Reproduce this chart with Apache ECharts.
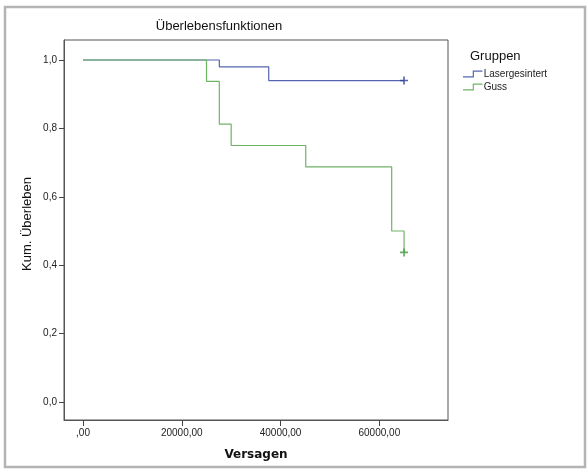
<!DOCTYPE html>
<html>
<head>
<meta charset="utf-8">
<script src="https://cdn.jsdelivr.net/npm/echarts@6/dist/echarts.min.js"></script>
<style>html,body{margin:0;padding:0;background:#fff}#c{width:588px;height:471px}</style>
</head>
<body>
<div id="c"></div>
<script>
// Data
var chartTitle = 'Überlebensfunktionen';
var xAxisName = 'Versagen';
var yAxisName = 'Kum. Überleben';
var legendTitle = 'Gruppen';
var groupNames = ['Lasergesintert', 'Guss'];
// Kaplan-Meier step points [time, cumulative survival]
var laserTimes = [0, 27600, 37600, 65000];
var laserSurv = [1.0, 0.98, 0.94, 0.94];
var gussTimes = [0, 25000, 27600, 30000, 45100, 62500, 65000];
var gussSurv = [1.0, 0.9375, 0.8125, 0.75, 0.6875, 0.5, 0.4375];
// censored observations
var laserCensTimes = [65000];
var laserCensSurv = [0.94];
var gussCensTimes = [65000];
var gussCensSurv = [0.4375];
var xTicks = [0, 20000, 40000, 60000];
var yTicks = [0, 0.2, 0.4, 0.6, 0.8, 1.0];

function zip(a, b) { return a.map(function (v, i) { return [v, b[i]]; }); }

var blue = '#5565b0';
var green = '#6fb465';
var blueDark = '#2b3d8e';
var greenDark = '#3a963c';
var plusPath = 'path://M4,0 L6,0 L6,4 L10,4 L10,6 L6,6 L6,10 L4,10 L4,6 L0,6 L0,4 L4,4 Z';
var stepIcon = 'path://M0,6 L10,6 L10,0 L20,0 L20,1.2 L11.2,1.2 L11.2,7.2 L0,7.2 Z';

var chart = echarts.init(document.getElementById('c'), null, { renderer: 'canvas' });
chart.setOption({
  animation: false,
  backgroundColor: '#fff',
  title: {
    text: chartTitle,
    left: 219, top: 20, textAlign: 'center', padding: 0,
    textStyle: { fontFamily: 'Liberation Sans', fontSize: 13, fontWeight: 'normal', color: '#111' }
  },
  grid: { left: 64, top: 40, right: 140, bottom: 51, show: true, borderColor: '#555', borderWidth: 1, backgroundColor: 'transparent' },
  legend: {
    orient: 'vertical', left: 463, top: 69, itemWidth: 20, itemHeight: 7, itemGap: 3, padding: 0,
    icon: stepIcon,
    data: groupNames,
    textStyle: { fontFamily: 'Liberation Sans', fontSize: 10, color: '#222', padding: [0, 0, 0, -4] }
  },
  xAxis: {
    type: 'value', min: -3850, max: 73900,
    name: xAxisName, nameLocation: 'middle', nameGap: 29,
    nameTextStyle: { fontFamily: 'DejaVu Sans', fontWeight: 'bold', fontSize: 12, color: '#111' },
    axisLine: { onZero: false, lineStyle: { color: '#555', width: 1 } },
    axisTick: { show: true, length: 6, customValues: xTicks, lineStyle: { color: '#444' } },
    axisLabel: { customValues: xTicks, margin: 8, fontFamily: 'Liberation Sans', fontSize: 10, color: '#222',
      formatter: function (v) { return (v === 0 ? '' : String(v)) + ',00'; } },
    splitLine: { show: false }
  },
  yAxis: {
    type: 'value', min: -0.0526, max: 1.0585,
    axisLine: { show: true, onZero: false, lineStyle: { color: '#555', width: 1 } },
    axisTick: { show: true, length: 5, customValues: yTicks, lineStyle: { color: '#444' } },
    axisLabel: { customValues: yTicks, margin: 7, fontFamily: 'Liberation Sans', fontSize: 10, color: '#222',
      formatter: function (v) { return v.toFixed(1).replace('.', ','); } },
    splitLine: { show: false }
  },
  graphic: [
    { type: 'rect', shape: { x: 5, y: 7, width: 580, height: 460 }, style: { fill: 'none', stroke: '#b4b4b4', lineWidth: 2.5 }, silent: true, z: -1 },
    { type: 'text', x: 27, y: 224, rotation: Math.PI / 2,
      style: { text: yAxisName, fontFamily: 'Liberation Sans', fontSize: 13, fill: '#111', align: 'center', verticalAlign: 'middle' } },
    { type: 'text', x: 470, y: 56,
      style: { text: legendTitle, fontFamily: 'Liberation Sans', fontSize: 13, fill: '#111', align: 'left', verticalAlign: 'middle' } }
  ],
  series: [
    { name: groupNames[0], type: 'line', step: 'end', data: zip(laserTimes, laserSurv), showSymbol: false,
      color: blue, lineStyle: { color: blue, width: 1.2 }, itemStyle: { color: blue }, z: 2 },
    { name: groupNames[1], type: 'line', step: 'end', data: zip(gussTimes, gussSurv), showSymbol: false,
      color: green, lineStyle: { color: green, width: 1.2 }, itemStyle: { color: green }, z: 3 },
    { name: groupNames[0] + ' zensiert', type: 'scatter', data: zip(laserCensTimes, laserCensSurv),
      symbol: plusPath, symbolSize: 8, itemStyle: { color: blueDark }, z: 4 },
    { name: groupNames[1] + ' zensiert', type: 'scatter', data: zip(gussCensTimes, gussCensSurv),
      symbol: plusPath, symbolSize: 8, itemStyle: { color: greenDark }, z: 4 }
  ]
});
</script>
</body>
</html>
